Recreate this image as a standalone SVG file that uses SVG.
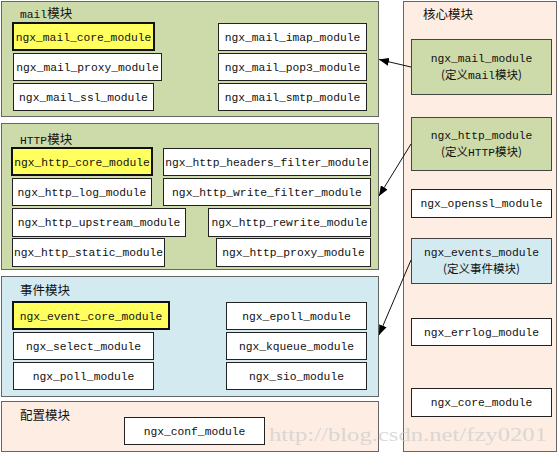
<svg xmlns="http://www.w3.org/2000/svg" width="560" height="454" viewBox="0 0 560 454">
<style>
text{font-family:"Liberation Mono","Noto Sans CJK SC",monospace;font-size:11.3px;fill:#111}
.t{text-anchor:middle}
.cj{font-family:"Noto Sans CJK SC",sans-serif;font-size:12.5px}
.cs{font-family:"Noto Sans CJK SC",sans-serif;font-size:11.5px}
.grp{stroke:#666;stroke-width:1}
.g{fill:#cddaa9}
.b{fill:#d2eaf0}
.p{fill:#fdede2}
.w{fill:#fff;stroke:#222;stroke-width:1}
.y{fill:#ffff5e;stroke:#111;stroke-width:2}
.cg{fill:#cddaa9;stroke:#444;stroke-width:1}
.cb{fill:#d2eaf0;stroke:#444;stroke-width:1}
.wm{font-family:"Liberation Serif",serif;font-size:19px;fill:#cfcfcf;fill-opacity:0.75}
.c{stroke:#111;stroke-width:1;fill:none}
</style>
<defs>
<marker id="ah" viewBox="0 0 10 8" refX="10" refY="4" markerWidth="10" markerHeight="8" markerUnits="userSpaceOnUse" orient="auto">
<path d="M0,0 L10,4 L0,8 z" fill="#000"/>
</marker>
</defs>

<g id="mail-group">
<rect class="grp g" x="1.5" y="1.5" width="377" height="115"/>
<text x="20" y="18">mail<tspan class="cj">模块</tspan></text>
</g>
<g id="ngx_mail_core_module"><rect class="y" x="13" y="23" width="141" height="27"/><text class="t" x="83.5" y="41">ngx_mail_core_module</text></g>
<g id="ngx_mail_proxy_module"><rect class="w" x="13.5" y="53.5" width="148" height="27"/><text class="t" x="87.5" y="71">ngx_mail_proxy_module</text></g>
<g id="ngx_mail_ssl_module"><rect class="w" x="13.5" y="83.5" width="140" height="27"/><text class="t" x="83.5" y="101">ngx_mail_ssl_module</text></g>
<g id="ngx_mail_imap_module"><rect class="w" x="218.5" y="23.5" width="148" height="27"/><text class="t" x="292.5" y="41">ngx_mail_imap_module</text></g>
<g id="ngx_mail_pop3_module"><rect class="w" x="218.5" y="53.5" width="148" height="27"/><text class="t" x="292.5" y="71">ngx_mail_pop3_module</text></g>
<g id="ngx_mail_smtp_module"><rect class="w" x="218.5" y="83.5" width="148" height="27"/><text class="t" x="292.5" y="101">ngx_mail_smtp_module</text></g>

<g id="http-group">
<rect class="grp g" x="1.5" y="123.5" width="377" height="146"/>
<text x="20" y="144">HTTP<tspan class="cj">模块</tspan></text>
</g>
<g id="ngx_http_core_module"><rect class="y" x="12" y="148" width="140" height="27"/><text class="t" x="82" y="166">ngx_http_core_module</text></g>
<g id="ngx_http_headers_filter_module"><rect class="w" x="163.5" y="148.5" width="207" height="27"/><text class="t" x="267" y="166">ngx_http_headers_filter_module</text></g>
<g id="ngx_http_log_module"><rect class="w" x="12.5" y="178.5" width="139" height="27"/><text class="t" x="82" y="196">ngx_http_log_module</text></g>
<g id="ngx_http_write_filter_module"><rect class="w" x="163.5" y="178.5" width="207" height="27"/><text class="t" x="267" y="196">ngx_http_write_filter_module</text></g>
<g id="ngx_http_upstream_module"><rect class="w" x="12.5" y="208.5" width="173" height="28"/><text class="t" x="99" y="226">ngx_http_upstream_module</text></g>
<g id="ngx_http_rewrite_module"><rect class="w" x="208.5" y="208.5" width="162" height="28"/><text class="t" x="289.5" y="226">ngx_http_rewrite_module</text></g>
<g id="ngx_http_static_module"><rect class="w" x="12.5" y="238.5" width="152" height="28"/><text class="t" x="88.5" y="256">ngx_http_static_module</text></g>
<g id="ngx_http_proxy_module"><rect class="w" x="216.5" y="238.5" width="154" height="28"/><text class="t" x="293.5" y="256">ngx_http_proxy_module</text></g>

<g id="event-group">
<rect class="grp b" x="1.5" y="276.5" width="377" height="120"/>
<text x="20" y="295" class="cj">事件模块</text>
</g>
<g id="ngx_event_core_module"><rect class="y" x="13" y="302" width="156" height="27"/><text class="t" x="91" y="320">ngx_event_core_module</text></g>
<g id="ngx_select_module"><rect class="w" x="13.5" y="332.5" width="140" height="27"/><text class="t" x="83.5" y="350">ngx_select_module</text></g>
<g id="ngx_poll_module"><rect class="w" x="13.5" y="362.5" width="140" height="27"/><text class="t" x="83.5" y="380">ngx_poll_module</text></g>
<g id="ngx_epoll_module"><rect class="w" x="226.5" y="302.5" width="140" height="27"/><text class="t" x="296.5" y="320">ngx_epoll_module</text></g>
<g id="ngx_kqueue_module"><rect class="w" x="226.5" y="332.5" width="140" height="27"/><text class="t" x="296.5" y="350">ngx_kqueue_module</text></g>
<g id="ngx_sio_module"><rect class="w" x="226.5" y="362.5" width="140" height="27"/><text class="t" x="296.5" y="380">ngx_sio_module</text></g>

<g id="conf-group">
<rect class="grp p" x="1.5" y="401.5" width="377" height="50"/>
<text x="20" y="420" class="cj">配置模块</text>
</g>
<g id="ngx_conf_module"><rect class="w" x="124.5" y="417.5" width="140" height="27"/><text class="t" x="194.5" y="435">ngx_conf_module</text></g>

<g id="core-group">
<rect class="grp p" x="403.5" y="1.5" width="153" height="450"/>
<text x="423" y="19" class="cj">核心模块</text>
</g>
<g id="ngx_mail_module"><rect class="cg" x="411.5" y="39.5" width="140" height="55"/><text class="t" x="481.5" y="62">ngx_mail_module</text><text class="t" x="481.5" y="79"><tspan class="cs">(定义</tspan>mail<tspan class="cs">模块)</tspan></text></g>
<g id="ngx_http_module"><rect class="cg" x="411.5" y="117.5" width="140" height="53"/><text class="t" x="481.5" y="139">ngx_http_module</text><text class="t" x="481.5" y="156"><tspan class="cs">(定义</tspan>HTTP<tspan class="cs">模块)</tspan></text></g>
<g id="ngx_openssl_module"><rect class="w" x="411.5" y="189.5" width="140" height="28"/><text class="t" x="481.5" y="207">ngx_openssl_module</text></g>
<g id="ngx_events_module"><rect class="cb" x="411.5" y="238.5" width="140" height="45"/><text class="t" x="481.5" y="256">ngx_events_module</text><text class="t cs" x="481.5" y="273">(定义事件模块)</text></g>
<g id="ngx_errlog_module"><rect class="w" x="411.5" y="318.5" width="140" height="27"/><text class="t" x="481.5" y="336">ngx_errlog_module</text></g>
<g id="ngx_core_module"><rect class="w" x="411.5" y="388.5" width="140" height="28"/><text class="t" x="481.5" y="406">ngx_core_module</text></g>

<g id="connectors">
<line class="c" x1="411" y1="67" x2="379" y2="59.5" marker-end="url(#ah)"/>
<line class="c" x1="411" y1="144" x2="379" y2="196" marker-end="url(#ah)"/>
<line class="c" x1="411" y1="260" x2="379" y2="335" marker-end="url(#ah)"/>
</g>

<text class="wm" x="269" y="441" textLength="278" lengthAdjust="spacingAndGlyphs">http://blog.csdn.net/fzy0201</text>
</svg>
